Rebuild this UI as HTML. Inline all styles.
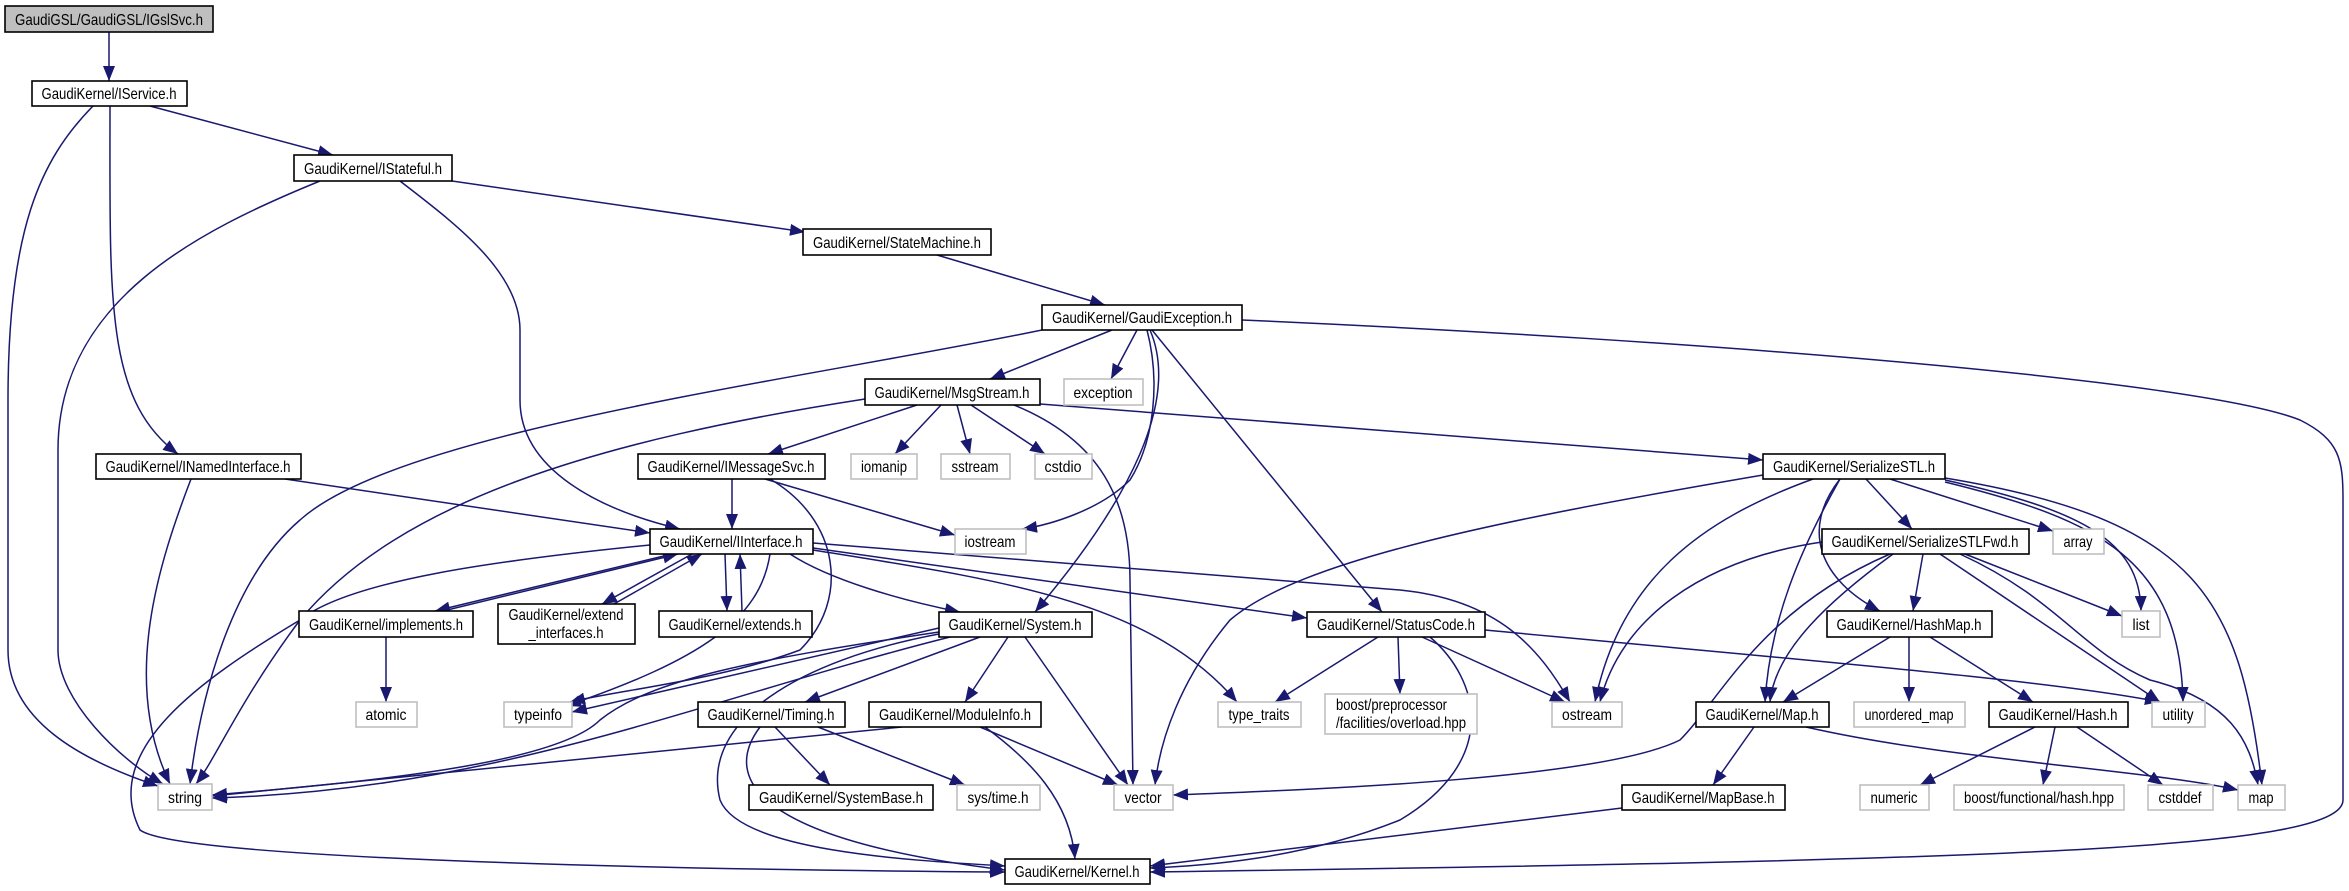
<!DOCTYPE html>
<html><head><meta charset="utf-8"><style>
html,body{margin:0;padding:0;background:#fff;}
svg{display:block}
text{font-family:"Liberation Sans",sans-serif;font-size:16px;fill:#000}
.e{fill:none;stroke:#191970;stroke-width:1.5;marker-end:url(#a)}
.n{fill:#fff;stroke:#000;stroke-width:1.6}
.g{fill:#fff;stroke:#bfbfbf;stroke-width:1.6}
</style></head><body>
<svg width="2349" height="891" viewBox="0 0 2349 891" xmlns="http://www.w3.org/2000/svg">
<defs><marker id="a" markerUnits="userSpaceOnUse" markerWidth="16" markerHeight="12" refX="15" refY="6" orient="auto"><path d="M0,0 L15,6 L0,12 z" fill="#191970"/></marker></defs>
<g>
<path class="e" d="M109,32 L109,81"/>
<path class="e" d="M150,106 L333,155"/>
<path class="e" d="M110,106 C110,300 105,400 178,454"/>
<path class="e" d="M93,106 C40,160 8,230 8,400 L8,650 C8,720 80,760 158,786"/>
<path class="e" d="M320,181 C200,230 58,300 58,450 L58,650 C58,700 120,760 163,784"/>
<path class="e" d="M400,181 C450,220 520,270 520,330 L520,400 C520,470 600,510 680,529"/>
<path class="e" d="M452,181 L805,232"/>
<path class="e" d="M937,255 L1105,305"/>
<path class="e" d="M1112,330 L990,379"/>
<path class="e" d="M1137,330 L1111,379"/>
<path class="e" d="M1147,330 C1160,380 1155,440 1130,480 C1100,510 1050,525 1022,529"/>
<path class="e" d="M1150,330 C1180,400 1130,500 1035,612"/>
<path class="e" d="M1152,330 L1382,612"/>
<path class="e" d="M1242,320 C1700,340 2200,380 2300,420 C2340,440 2343,460 2343,500 L2343,800 C2343,850 2000,860 1150,872"/>
<path class="e" d="M1042,330 C800,380 400,430 300,520 C230,580 200,700 190,784"/>
<path class="e" d="M865,399 C600,440 400,500 300,620 C240,700 215,760 196,784"/>
<path class="e" d="M917,405 L768,454"/>
<path class="e" d="M941,405 L895,454"/>
<path class="e" d="M957,405 L970,454"/>
<path class="e" d="M971,405 L1045,454"/>
<path class="e" d="M1014,405 C1100,440 1130,500 1130,580 L1133,785"/>
<path class="e" d="M1040,404 L1763,460"/>
<path class="e" d="M285,479 L650,533"/>
<path class="e" d="M191,479 C160,560 120,680 170,784"/>
<path class="e" d="M732,479 L732,529"/>
<path class="e" d="M765,479 L955,535"/>
<path class="e" d="M770,479 C840,520 850,600 800,650 C720,680 620,690 570,702"/>
<path class="e" d="M650,545 C500,560 350,580 300,620 C200,680 100,750 140,830 C180,860 700,870 1005,872"/>
<path class="e" d="M672,554 L435,611"/>
<path class="e" d="M443,611 L678,554"/>
<path class="e" d="M692,554 L602,604"/>
<path class="e" d="M614,604 L702,554"/>
<path class="e" d="M725,554 L727,611"/>
<path class="e" d="M742,611 L740,554"/>
<path class="e" d="M790,554 C830,580 900,600 960,612"/>
<path class="e" d="M813,550 C1000,580 1150,600 1237,702"/>
<path class="e" d="M813,548 L1307,618"/>
<path class="e" d="M813,543 L1400,590 C1500,600 1540,650 1570,702"/>
<path class="e" d="M770,554 C760,620 700,660 566,706"/>
<path class="e" d="M386,637 L386,702"/>
<path class="e" d="M939,628 L572,712"/>
<path class="e" d="M939,632 C750,660 650,680 600,720 C560,760 400,780 212,795"/>
<path class="e" d="M950,637 C700,700 500,790 212,798"/>
<path class="e" d="M980,637 L805,702"/>
<path class="e" d="M1008,637 L965,702"/>
<path class="e" d="M1025,637 L1128,785"/>
<path class="e" d="M939,634 C800,660 700,720 720,800 C740,850 900,860 1005,866"/>
<path class="e" d="M775,727 L830,785"/>
<path class="e" d="M818,727 L965,785"/>
<path class="e" d="M760,727 C720,780 760,840 1005,870"/>
<path class="e" d="M902,727 L212,796"/>
<path class="e" d="M980,727 L1118,785"/>
<path class="e" d="M985,727 C1030,760 1070,800 1075,859"/>
<path class="e" d="M1378,637 L1275,702"/>
<path class="e" d="M1398,637 L1400,694"/>
<path class="e" d="M1422,637 L1565,702"/>
<path class="e" d="M1430,637 C1480,680 1500,760 1400,820 C1300,860 1200,866 1150,868"/>
<path class="e" d="M1485,630 C1800,660 2050,680 2160,702"/>
<path class="e" d="M1763,475 C1500,520 1300,560 1230,620 C1180,680 1160,740 1155,785"/>
<path class="e" d="M1813,479 C1700,520 1620,580 1595,702"/>
<path class="e" d="M1840,479 C1800,550 1770,620 1765,702"/>
<path class="e" d="M1840,479 C1800,530 1820,580 1880,611"/>
<path class="e" d="M1866,479 L1912,529"/>
<path class="e" d="M1890,479 L2053,531"/>
<path class="e" d="M1945,480 C2080,510 2140,540 2141,611"/>
<path class="e" d="M1945,482 C2100,520 2180,560 2183,702"/>
<path class="e" d="M1945,478 C2200,520 2240,600 2262,785"/>
<path class="e" d="M1822,542 C1700,560 1620,620 1600,702"/>
<path class="e" d="M1890,554 C1760,610 1720,700 1680,740 C1600,780 1300,790 1173,795"/>
<path class="e" d="M1893,554 C1830,600 1775,650 1770,702"/>
<path class="e" d="M1923,554 L1913,611"/>
<path class="e" d="M1965,554 L2122,616"/>
<path class="e" d="M1940,554 L2160,702"/>
<path class="e" d="M1960,554 C2060,600 2080,650 2150,680 C2230,700 2250,740 2258,785"/>
<path class="e" d="M1890,637 L1783,702"/>
<path class="e" d="M1909,637 L1909,702"/>
<path class="e" d="M1930,637 L2033,702"/>
<path class="e" d="M1754,727 L1713,785"/>
<path class="e" d="M1806,727 C1950,760 2150,770 2238,790"/>
<path class="e" d="M2035,727 L1920,785"/>
<path class="e" d="M2055,727 L2043,785"/>
<path class="e" d="M2077,727 L2163,785"/>
<path class="e" d="M1622,808 L1150,866"/>
</g>
<g>
<rect x="5" y="6" width="208" height="26" fill="#bfbfbf" stroke="#000" stroke-width="1.6"/><text x="109" y="25" text-anchor="middle" textLength="188" lengthAdjust="spacingAndGlyphs">GaudiGSL/GaudiGSL/IGslSvc.h</text>
<rect class="n" x="32" y="81" width="155" height="25"/><text x="109" y="99" text-anchor="middle" textLength="135" lengthAdjust="spacingAndGlyphs">GaudiKernel/IService.h</text>
<rect class="n" x="294" y="155" width="158" height="26"/><text x="373" y="174" text-anchor="middle" textLength="138" lengthAdjust="spacingAndGlyphs">GaudiKernel/IStateful.h</text>
<rect class="n" x="96" y="454" width="205" height="25"/><text x="198" y="472" text-anchor="middle" textLength="185" lengthAdjust="spacingAndGlyphs">GaudiKernel/INamedInterface.h</text>
<rect class="n" x="638" y="454" width="187" height="25"/><text x="731" y="472" text-anchor="middle" textLength="167" lengthAdjust="spacingAndGlyphs">GaudiKernel/IMessageSvc.h</text>
<rect class="n" x="650" y="529" width="163" height="25"/><text x="731" y="547" text-anchor="middle" textLength="143" lengthAdjust="spacingAndGlyphs">GaudiKernel/IInterface.h</text>
<rect class="n" x="299" y="611" width="174" height="26"/><text x="386" y="630" text-anchor="middle" textLength="154" lengthAdjust="spacingAndGlyphs">GaudiKernel/implements.h</text>
<rect class="n" x="498" y="604" width="137" height="40"/><text x="566" y="620" text-anchor="middle" textLength="115" lengthAdjust="spacingAndGlyphs">GaudiKernel/extend</text><text x="566" y="638" text-anchor="middle" textLength="75" lengthAdjust="spacingAndGlyphs">_interfaces.h</text>
<rect class="n" x="659" y="611" width="153" height="26"/><text x="735" y="630" text-anchor="middle" textLength="133" lengthAdjust="spacingAndGlyphs">GaudiKernel/extends.h</text>
<rect class="g" x="356" y="702" width="61" height="25"/><text x="386" y="720" text-anchor="middle" textLength="41" lengthAdjust="spacingAndGlyphs">atomic</text>
<rect class="g" x="504" y="702" width="68" height="25"/><text x="538" y="720" text-anchor="middle" textLength="48" lengthAdjust="spacingAndGlyphs">typeinfo</text>
<rect class="g" x="158" y="784" width="54" height="26"/><text x="185" y="803" text-anchor="middle" textLength="34" lengthAdjust="spacingAndGlyphs">string</text>
<rect class="n" x="698" y="702" width="147" height="25"/><text x="771" y="720" text-anchor="middle" textLength="127" lengthAdjust="spacingAndGlyphs">GaudiKernel/Timing.h</text>
<rect class="n" x="749" y="785" width="184" height="25"/><text x="841" y="803" text-anchor="middle" textLength="164" lengthAdjust="spacingAndGlyphs">GaudiKernel/SystemBase.h</text>
<rect class="n" x="803" y="229" width="188" height="26"/><text x="897" y="248" text-anchor="middle" textLength="168" lengthAdjust="spacingAndGlyphs">GaudiKernel/StateMachine.h</text>
<rect class="n" x="1042" y="305" width="200" height="25"/><text x="1142" y="323" text-anchor="middle" textLength="180" lengthAdjust="spacingAndGlyphs">GaudiKernel/GaudiException.h</text>
<rect class="n" x="865" y="379" width="175" height="26"/><text x="952" y="398" text-anchor="middle" textLength="155" lengthAdjust="spacingAndGlyphs">GaudiKernel/MsgStream.h</text>
<rect class="g" x="1064" y="379" width="79" height="26"/><text x="1103" y="398" text-anchor="middle" textLength="59" lengthAdjust="spacingAndGlyphs">exception</text>
<rect class="g" x="851" y="454" width="66" height="25"/><text x="884" y="472" text-anchor="middle" textLength="46" lengthAdjust="spacingAndGlyphs">iomanip</text>
<rect class="g" x="941" y="454" width="69" height="25"/><text x="975" y="472" text-anchor="middle" textLength="47" lengthAdjust="spacingAndGlyphs">sstream</text>
<rect class="g" x="1035" y="454" width="57" height="25"/><text x="1063" y="472" text-anchor="middle" textLength="37" lengthAdjust="spacingAndGlyphs">cstdio</text>
<rect class="g" x="955" y="529" width="71" height="25"/><text x="990" y="547" text-anchor="middle" textLength="51" lengthAdjust="spacingAndGlyphs">iostream</text>
<rect class="n" x="939" y="612" width="153" height="25"/><text x="1015" y="630" text-anchor="middle" textLength="133" lengthAdjust="spacingAndGlyphs">GaudiKernel/System.h</text>
<rect class="n" x="1307" y="612" width="178" height="25"/><text x="1396" y="630" text-anchor="middle" textLength="158" lengthAdjust="spacingAndGlyphs">GaudiKernel/StatusCode.h</text>
<rect class="n" x="869" y="702" width="172" height="25"/><text x="955" y="720" text-anchor="middle" textLength="152" lengthAdjust="spacingAndGlyphs">GaudiKernel/ModuleInfo.h</text>
<rect class="g" x="957" y="785" width="83" height="25"/><text x="998" y="803" text-anchor="middle" textLength="61" lengthAdjust="spacingAndGlyphs">sys/time.h</text>
<rect class="g" x="1114" y="785" width="59" height="25"/><text x="1143" y="803" text-anchor="middle" textLength="37" lengthAdjust="spacingAndGlyphs">vector</text>
<rect class="n" x="1005" y="859" width="145" height="25"/><text x="1077" y="877" text-anchor="middle" textLength="125" lengthAdjust="spacingAndGlyphs">GaudiKernel/Kernel.h</text>
<rect class="g" x="1218" y="702" width="83" height="25"/><text x="1259" y="720" text-anchor="middle" textLength="61" lengthAdjust="spacingAndGlyphs">type_traits</text>
<rect class="g" x="1325" y="694" width="152" height="40"/><text x="1336" y="710" textLength="111" lengthAdjust="spacingAndGlyphs">boost/preprocessor</text><text x="1336" y="728" textLength="130" lengthAdjust="spacingAndGlyphs">/facilities/overload.hpp</text>
<rect class="g" x="1552" y="702" width="70" height="25"/><text x="1587" y="720" text-anchor="middle" textLength="50" lengthAdjust="spacingAndGlyphs">ostream</text>
<rect class="n" x="1763" y="454" width="182" height="25"/><text x="1854" y="472" text-anchor="middle" textLength="162" lengthAdjust="spacingAndGlyphs">GaudiKernel/SerializeSTL.h</text>
<rect class="n" x="1822" y="529" width="207" height="25"/><text x="1925" y="547" text-anchor="middle" textLength="187" lengthAdjust="spacingAndGlyphs">GaudiKernel/SerializeSTLFwd.h</text>
<rect class="g" x="2053" y="529" width="51" height="25"/><text x="2078" y="547" text-anchor="middle" textLength="29" lengthAdjust="spacingAndGlyphs">array</text>
<rect class="n" x="1827" y="611" width="165" height="26"/><text x="1909" y="630" text-anchor="middle" textLength="145" lengthAdjust="spacingAndGlyphs">GaudiKernel/HashMap.h</text>
<rect class="g" x="2122" y="611" width="38" height="26"/><text x="2141" y="630" text-anchor="middle" textLength="17" lengthAdjust="spacingAndGlyphs">list</text>
<rect class="n" x="1696" y="702" width="133" height="25"/><text x="1762" y="720" text-anchor="middle" textLength="113" lengthAdjust="spacingAndGlyphs">GaudiKernel/Map.h</text>
<rect class="g" x="1854" y="702" width="111" height="25"/><text x="1909" y="720" text-anchor="middle" textLength="89" lengthAdjust="spacingAndGlyphs">unordered_map</text>
<rect class="n" x="1989" y="702" width="139" height="25"/><text x="2058" y="720" text-anchor="middle" textLength="119" lengthAdjust="spacingAndGlyphs">GaudiKernel/Hash.h</text>
<rect class="g" x="2152" y="702" width="53" height="25"/><text x="2178" y="720" text-anchor="middle" textLength="31" lengthAdjust="spacingAndGlyphs">utility</text>
<rect class="n" x="1622" y="785" width="163" height="25"/><text x="1703" y="803" text-anchor="middle" textLength="143" lengthAdjust="spacingAndGlyphs">GaudiKernel/MapBase.h</text>
<rect class="g" x="1860" y="785" width="69" height="25"/><text x="1894" y="803" text-anchor="middle" textLength="47" lengthAdjust="spacingAndGlyphs">numeric</text>
<rect class="g" x="1954" y="785" width="170" height="25"/><text x="2039" y="803" text-anchor="middle" textLength="150" lengthAdjust="spacingAndGlyphs">boost/functional/hash.hpp</text>
<rect class="g" x="2148" y="785" width="65" height="25"/><text x="2180" y="803" text-anchor="middle" textLength="43" lengthAdjust="spacingAndGlyphs">cstddef</text>
<rect class="g" x="2238" y="785" width="47" height="25"/><text x="2261" y="803" text-anchor="middle" textLength="25" lengthAdjust="spacingAndGlyphs">map</text>
</g>
</svg>
</body></html>
